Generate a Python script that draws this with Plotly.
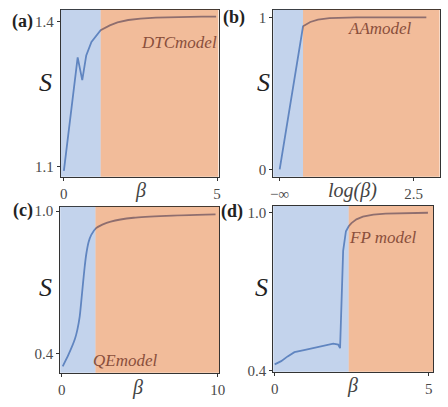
import plotly.graph_objects as go
from plotly.subplots import make_subplots

# panel (a) DTC model
a_beta = [0, 0.45, 0.6, 0.73, 0.9, 1.2, 1.5, 1.75, 2.1, 2.5, 3, 3.5, 4, 4.5, 4.97]
a_S = [1.092, 1.326, 1.279, 1.33, 1.358, 1.382, 1.392, 1.398, 1.403, 1.406, 1.408, 1.409, 1.409, 1.41, 1.41]
a_split = 1.2

# panel (b) AA model, x is log(beta), first point stands for -inf
b_logbeta = [-1, -0.39, -0.2, 0, 0.3, 0.6, 1.0, 1.5, 2.0, 2.5, 2.83]
b_S = [0, 0.942, 0.97, 0.985, 0.995, 0.999, 1.0, 1.0, 1.0, 1.0, 1.0]
b_split = -0.39

# panel (c) QE model
c_beta = [0.06, 0.42, 0.84, 1.0, 1.15, 1.25, 1.36, 1.46, 1.57, 1.72, 1.89, 2.2, 2.6, 3.14, 4.6, 6.7, 9.86]
c_S = [0.345, 0.393, 0.46, 0.50, 0.556, 0.62, 0.695, 0.76, 0.819, 0.87, 0.90, 0.928, 0.943, 0.956, 0.972, 0.98, 0.986]
c_split = 2.16

# panel (d) FP model
d_beta = [0, 0.21, 0.42, 0.64, 0.95, 1.27, 1.59, 1.9, 2.06, 2.12, 2.17, 2.22, 2.31, 2.4, 2.49, 2.65, 2.86, 3.2, 3.6, 4.2, 4.97]
d_S = [0.425, 0.437, 0.455, 0.471, 0.479, 0.488, 0.495, 0.503, 0.50, 0.486, 0.67, 0.855, 0.929, 0.948, 0.96, 0.974, 0.984, 0.992, 0.996, 0.998, 0.999]
d_split = 2.40

panels = [
    dict(x=a_beta, y=a_S, split=a_split, xr=[-0.1, 5.05], yr=[1.08, 1.424], shape='linear',
         xt=[0, 5], xtt=['0', '5'], yt=[1.1, 1.4], ytt=['1.1', '1.4'],
         dom_x=[59, 220], dom_y=[7, 178], tag='(a)', model='DTCmodel', mpos=(180, 40),
         xlab='β', xlpos=(140, 192), slpos=(43, 82), tagpos=(20, 19)),
    dict(x=b_logbeta, y=b_S, split=b_split, xr=[-1.17, 3.18], yr=[-0.047, 1.05], shape='linear',
         xt=[-1, 2.5], xtt=['−∞', '2.5'], yt=[0, 1], ytt=['0', '1'],
         dom_x=[275.7, 445.7], dom_y=[7, 178], tag='(b)', model='AAmodel', mpos=(385, 26),
         xlab='log(β)', xlpos=(357, 192), slpos=(265.7, 82), tagpos=(236, 15)),
    dict(x=c_beta, y=c_S, split=c_split, xr=[-0.107, 10.1], yr=[0.318, 1.018], shape='spline',
         xt=[0, 10], xtt=['0', '10'], yt=[0.4, 1.0], ytt=['0.4', '1.0'],
         dom_x=[58.3, 220.7], dom_y=[209, 379], tag='(c)', model='QEmodel', mpos=(124, 367),
         xlab='β', xlpos=(137, 394), slpos=(43, 292), tagpos=(20, 213)),
    dict(x=d_beta, y=d_S, split=d_split, xr=[-0.05, 5.14], yr=[0.397, 1.025], shape='linear',
         xt=[0, 5], xtt=['0', '5'], yt=[0.4, 1.0], ytt=['0.4', '1.0'],
         dom_x=[275.7, 439], dom_y=[208, 378], tag='(d)', model='FP model', mpos=(388, 240),
         xlab='β', xlpos=(357, 392), slpos=(264, 292), tagpos=(234, 214)),
]

W, H = 448, 407
SERIF = 'Liberation Serif'

fig = make_subplots(rows=2, cols=2)

for i, p in enumerate(panels):
    row, col = i // 2 + 1, i % 2 + 1
    n = '' if i == 0 else str(i + 1)
    fig.add_trace(go.Scatter(x=p['x'], y=p['y'], mode='lines',
                             line=dict(color='#4C72B0', width=1.8, shape=p['shape'], smoothing=0.6),
                             showlegend=False),
                  row=row, col=col)
    fig.update_xaxes(range=p['xr'], tickvals=p['xt'], ticktext=p['xtt'],
                     domain=[p['dom_x'][0] / W, p['dom_x'][1] / W],
                     showgrid=False, zeroline=False, showline=True, mirror=True,
                     linecolor='#333', linewidth=1, ticks='outside', ticklen=3,
                     tickcolor='#333', tickfont=dict(family=SERIF, size=15, color='#4a4a4a'),
                     row=row, col=col)
    fig.update_yaxes(range=p['yr'], tickvals=p['yt'], ticktext=p['ytt'],
                     domain=[1 - p['dom_y'][1] / H, 1 - p['dom_y'][0] / H],
                     showgrid=False, zeroline=False, showline=True, mirror=True,
                     linecolor='#333', linewidth=1, ticks='outside', ticklen=3,
                     tickcolor='#333', tickfont=dict(family=SERIF, size=15, color='#4a4a4a'),
                     row=row, col=col)
    # tinted regions drawn over the line so it shifts colour
    fig.add_shape(type='rect', xref='x' + n, yref='y' + n + ' domain',
                  x0=p['xr'][0], x1=p['split'], y0=0, y1=1, layer='above',
                  fillcolor='rgb(122,157,213)', opacity=0.45, line_width=0)
    fig.add_shape(type='rect', xref='x' + n, yref='y' + n + ' domain',
                  x0=p['split'], x1=p['xr'][1], y0=0, y1=1, layer='above',
                  fillcolor='rgb(226,106,31)', opacity=0.45, line_width=0)

    def ann(text, pos, size, color='#222', italic=True):
        fig.add_annotation(x=pos[0] / W, y=1 - pos[1] / H, xref='paper', yref='paper',
                           text=('<i>%s</i>' % text) if italic else text, showarrow=False,
                           font=dict(family=SERIF, size=size, color=color),
                           xanchor='center', yanchor='middle')

    ann('S', p['slpos'], 26)
    ann(p['xlab'], p['xlpos'], 20, color='#444')
    ann(p['model'], p['mpos'], 17, color='#8A4F3C')
    ann('<b>%s</b>' % p['tag'], p['tagpos'], 18, italic=False)

fig.update_layout(width=W, height=H, margin=dict(l=0, r=0, t=0, b=0),
                  plot_bgcolor='white', paper_bgcolor='white',
                  font=dict(family=SERIF))

fig.write_html("out.html", config={'displayModeBar': False},
               post_script="document.body.style.margin='0';")
